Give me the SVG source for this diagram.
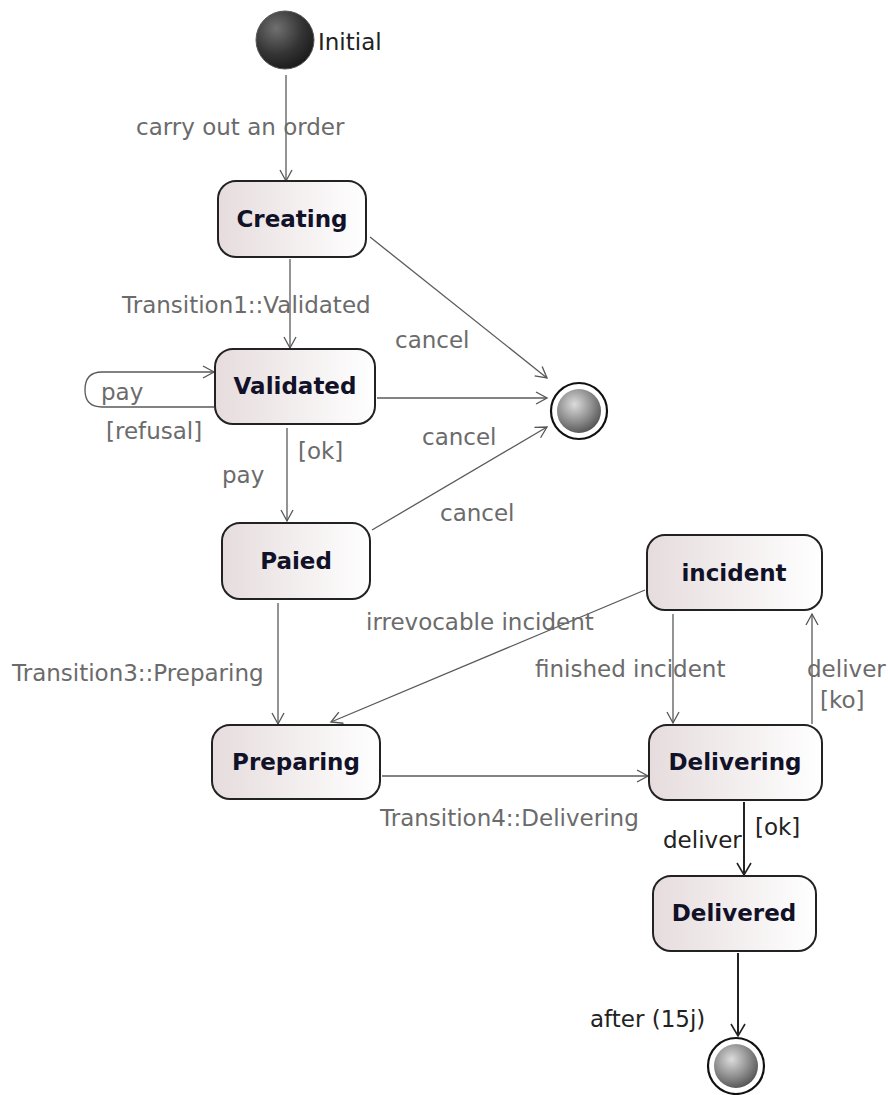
<svg xmlns="http://www.w3.org/2000/svg" width="888" height="1095" viewBox="0 0 888 1095">
  <defs>
    <linearGradient id="stateFill" x1="0" y1="0" x2="1" y2="0">
      <stop offset="0" stop-color="#e6dcdd"/>
      <stop offset="1" stop-color="#ffffff"/>
    </linearGradient>
    <radialGradient id="initFill" cx="0.35" cy="0.3" r="0.75">
      <stop offset="0" stop-color="#707070"/>
      <stop offset="0.6" stop-color="#343434"/>
      <stop offset="1" stop-color="#1a1a1a"/>
    </radialGradient>
    <radialGradient id="finalFill" cx="0.4" cy="0.35" r="0.7">
      <stop offset="0" stop-color="#dcdcdc"/>
      <stop offset="0.6" stop-color="#8a8a8a"/>
      <stop offset="1" stop-color="#505050"/>
    </radialGradient>
    <marker id="arrow" markerWidth="14" markerHeight="14" refX="12" refY="7" orient="auto" markerUnits="userSpaceOnUse">
      <path d="M1,1 L12,7 L1,13" fill="none" stroke="#555" stroke-width="1.3"/>
    </marker>
    <marker id="arrowDark" markerWidth="16" markerHeight="16" refX="13" refY="8" orient="auto" markerUnits="userSpaceOnUse">
      <path d="M1,1 L13,8 L1,15" fill="none" stroke="#222" stroke-width="1.6"/>
    </marker>
  </defs>
  <style>
    .state { fill: url(#stateFill); stroke: #222; stroke-width: 2; }
    .name { font-family: "DejaVu Sans", Verdana, sans-serif; font-size: 23px; font-weight: bold; fill: #111128; text-anchor: middle; }
    .lbl { font-family: "DejaVu Sans", Verdana, sans-serif; font-size: 23px; fill: #6b6b6b; }
    .dark { fill: #222; }
    .edge { fill: none; stroke: #5a5a5a; stroke-width: 1.3; marker-end: url(#arrow); }
    .edgeDark { fill: none; stroke: #222; stroke-width: 2; marker-end: url(#arrowDark); }
  </style>

  <rect width="888" height="1095" fill="#ffffff"/>

  <!-- transitions -->
  <g id="connectors">
    <line class="edge" x1="286" y1="75" x2="286" y2="181"/>
    <line class="edge" x1="290" y1="259" x2="290" y2="348"/>
    <line class="edge" x1="370" y1="237" x2="547" y2="378"/>
    <line class="edge" x1="377" y1="398" x2="547" y2="398"/>
    <line class="edge" x1="372" y1="530" x2="547" y2="427"/>
    <path class="edge" d="M214,407 L102,407 Q85,407 85,390 Q85,372 102,372 L214,372"/>
    <line class="edge" x1="287" y1="428" x2="287" y2="521"/>
    <line class="edge" x1="278" y1="603" x2="278" y2="724"/>
    <line class="edge" x1="645" y1="590" x2="331" y2="722"/>
    <line class="edge" x1="673" y1="614" x2="673" y2="723"/>
    <line class="edge" x1="812" y1="724" x2="812" y2="614"/>
    <line class="edge" x1="382" y1="776" x2="648" y2="776"/>
    <line class="edgeDark" x1="744" y1="802" x2="744" y2="875"/>
    <line class="edgeDark" x1="738" y1="953" x2="738" y2="1036"/>
  </g>

  <!-- transition labels -->
  <g id="labels">
    <text class="lbl" x="136" y="135">carry out an order</text>
    <text class="lbl" x="122" y="313">Transition1::Validated</text>
    <text class="lbl" x="395" y="348">cancel</text>
    <text class="lbl" x="101" y="400">pay</text>
    <text class="lbl" x="106" y="439">[refusal]</text>
    <text class="lbl" x="298" y="459">[ok]</text>
    <text class="lbl" x="422" y="445">cancel</text>
    <text class="lbl" x="222" y="483">pay</text>
    <text class="lbl" x="440" y="521">cancel</text>
    <text class="lbl" x="12" y="681">Transition3::Preparing</text>
    <text class="lbl" x="366" y="630">irrevocable incident</text>
    <text class="lbl" x="535" y="677">finished incident</text>
    <text class="lbl" x="807" y="677">deliver</text>
    <text class="lbl" x="820" y="708">[ko]</text>
    <text class="lbl" x="380" y="826">Transition4::Delivering</text>
    <text class="lbl dark" x="663" y="848">deliver</text>
    <text class="lbl dark" x="755" y="835">[ok]</text>
    <text class="lbl dark" x="590" y="1027">after (15j)</text>
  </g>

  <!-- pseudo states -->
  <g id="initial">
    <circle cx="285" cy="40" r="29" fill="url(#initFill)" stroke="#555" stroke-width="1"/>
    <text class="lbl dark" x="318" y="50">Initial</text>
  </g>
  <g id="final1">
    <circle cx="579" cy="411" r="28" fill="#fff" stroke="#111" stroke-width="2.2"/>
    <circle cx="579" cy="411" r="22" fill="url(#finalFill)"/>
  </g>
  <g id="final2">
    <circle cx="736" cy="1066" r="28" fill="#fff" stroke="#111" stroke-width="2.2"/>
    <circle cx="736" cy="1066" r="22" fill="url(#finalFill)"/>
  </g>

  <!-- states -->
  <g id="creating">
    <rect class="state" x="218" y="181" width="148" height="76" rx="18"/>
    <text class="name" x="292" y="227">Creating</text>
  </g>
  <g id="validated">
    <rect class="state" x="215" y="349" width="160" height="75" rx="18"/>
    <text class="name" x="295" y="394">Validated</text>
  </g>
  <g id="paied">
    <rect class="state" x="222" y="523" width="148" height="76" rx="18"/>
    <text class="name" x="296" y="569">Paied</text>
  </g>
  <g id="preparing">
    <rect class="state" x="212" y="725" width="168" height="74" rx="18"/>
    <text class="name" x="296" y="770">Preparing</text>
  </g>
  <g id="incident">
    <rect class="state" x="647" y="535" width="175" height="75" rx="18"/>
    <text class="name" x="734" y="581">incident</text>
  </g>
  <g id="delivering">
    <rect class="state" x="649" y="725" width="173" height="75" rx="18"/>
    <text class="name" x="735" y="770">Delivering</text>
  </g>
  <g id="delivered">
    <rect class="state" x="653" y="876" width="163" height="75" rx="18"/>
    <text class="name" x="734" y="921">Delivered</text>
  </g>
</svg>
